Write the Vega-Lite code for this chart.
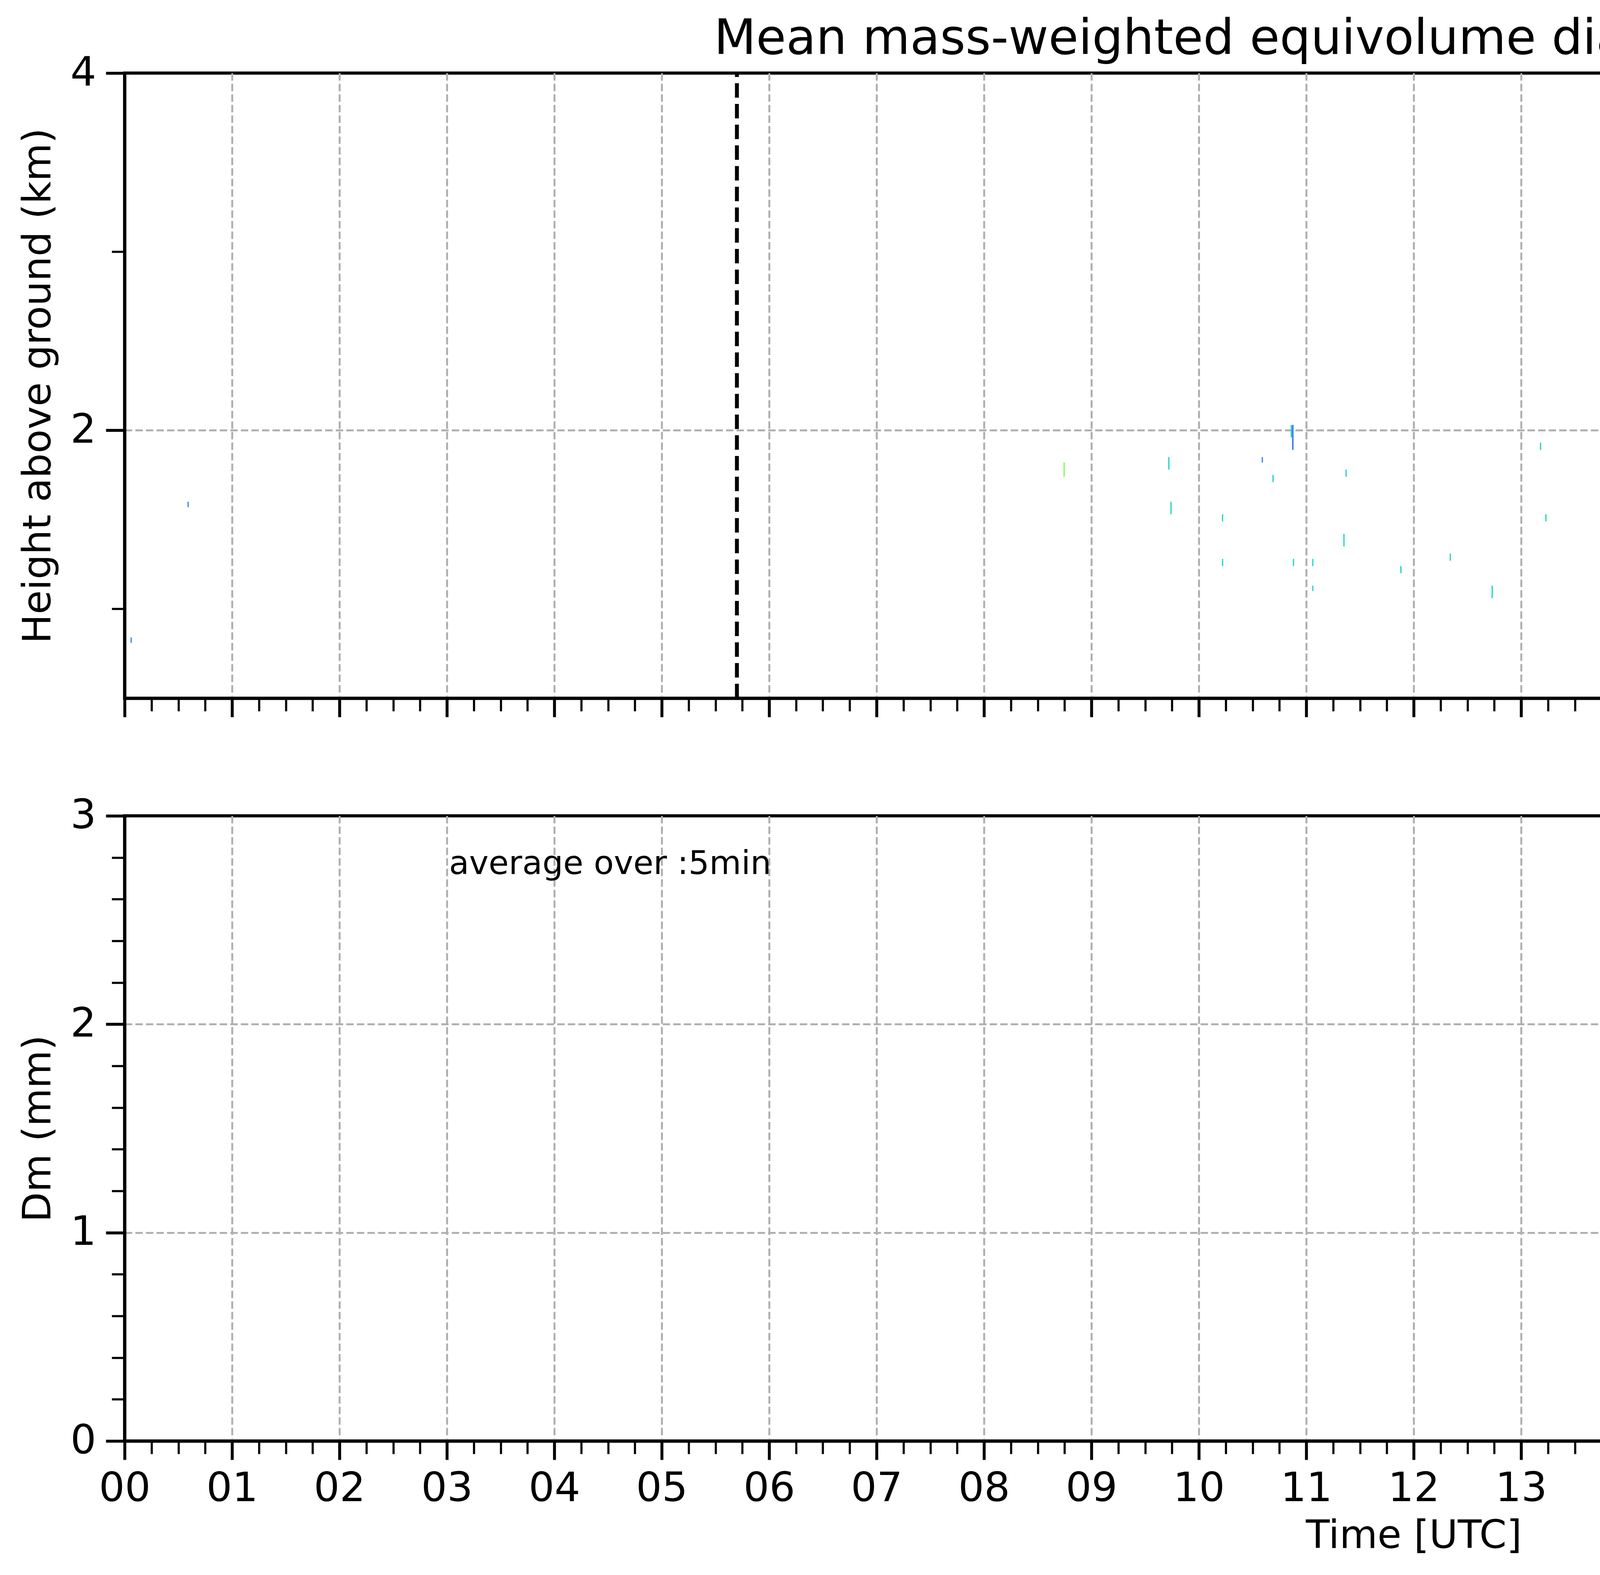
{
  "$schema": "https://vega.github.io/schema/vega-lite/v6.json",
  "background": "white",
  "padding": {"left": 44, "top": 34, "right": 5, "bottom": 5},
  "spacing": 301,
  "bounds": "flush",
  "config": {
    "font": "DejaVu Sans",
    "view": {"stroke": "black", "strokeWidth": 8},
    "axis": {
      "domainColor": "black", "domainWidth": 8, "tickColor": "black",
      "labelColor": "black", "titleColor": "black",
      "gridColor": "#b0b0b0", "gridDash": [19, 8], "gridWidth": 5,
      "titleFontWeight": "normal", "labelFontSize": 104, "titleFontSize": 100,
      "labelPadding": 25, "titlePadding": 30,
      "labelOverlap": false, "labelFlush": false, "labelBound": false
    },
    "title": {"fontWeight": "normal", "color": "black"}
  },
  "datasets": {
    "c": [
      {"t0": 0.055, "t1": 0.067, "h0": 0.81, "h1": 0.84, "dm": 0.35},
      {"t0": 0.585, "t1": 0.597, "h0": 1.57, "h1": 1.60, "dm": 0.35},
      {"t0": 8.74, "t1": 8.752, "h0": 1.74, "h1": 1.82, "dm": 0.95},
      {"t0": 9.715, "t1": 9.727, "h0": 1.78, "h1": 1.85, "dm": 0.6},
      {"t0": 9.735, "t1": 9.747, "h0": 1.53, "h1": 1.60, "dm": 0.62},
      {"t0": 10.215, "t1": 10.227, "h0": 1.49, "h1": 1.53, "dm": 0.62},
      {"t0": 10.215, "t1": 10.227, "h0": 1.24, "h1": 1.28, "dm": 0.62},
      {"t0": 10.585, "t1": 10.597, "h0": 1.82, "h1": 1.85, "dm": 0.35},
      {"t0": 10.685, "t1": 10.697, "h0": 1.71, "h1": 1.75, "dm": 0.6},
      {"t0": 10.855, "t1": 10.868, "h0": 1.96, "h1": 2.03, "dm": 0.55},
      {"t0": 10.868, "t1": 10.882, "h0": 1.89, "h1": 2.03, "dm": 0.3},
      {"t0": 10.875, "t1": 10.887, "h0": 1.24, "h1": 1.28, "dm": 0.62},
      {"t0": 11.055, "t1": 11.067, "h0": 1.24, "h1": 1.28, "dm": 0.62},
      {"t0": 11.055, "t1": 11.067, "h0": 1.10, "h1": 1.13, "dm": 0.62},
      {"t0": 11.365, "t1": 11.377, "h0": 1.74, "h1": 1.78, "dm": 0.6},
      {"t0": 11.345, "t1": 11.357, "h0": 1.35, "h1": 1.42, "dm": 0.6},
      {"t0": 11.875, "t1": 11.887, "h0": 1.20, "h1": 1.24, "dm": 0.6},
      {"t0": 12.335, "t1": 12.347, "h0": 1.27, "h1": 1.31, "dm": 0.62},
      {"t0": 12.725, "t1": 12.737, "h0": 1.06, "h1": 1.13, "dm": 0.6},
      {"t0": 13.175, "t1": 13.187, "h0": 1.89, "h1": 1.93, "dm": 0.6},
      {"t0": 13.225, "t1": 13.237, "h0": 1.49, "h1": 1.53, "dm": 0.6},
      {"t0": 14.215, "t1": 14.227, "h0": 1.46, "h1": 1.49, "dm": 0.6},
      {"t0": 15.085, "t1": 15.097, "h0": 1.46, "h1": 1.49, "dm": 0.6},
      {"t0": 15.21, "t1": 15.24, "h0": 1.35, "h1": 1.64, "dm": 0.46},
      {"t0": 15.215, "t1": 15.228, "h0": 1.28, "h1": 1.31, "dm": 0.62},
      {"t0": 15.36, "t1": 15.372, "h0": 1.31, "h1": 1.50, "dm": 0.85},
      {"t0": 15.372, "t1": 15.39, "h0": 1.40, "h1": 1.57, "dm": 0.55},
      {"t0": 15.386, "t1": 15.393, "h0": 1.60, "h1": 2.07, "dm": 0.62},
      {"t0": 16.358, "t1": 16.393, "h0": 1.03, "h1": 1.676, "dm": 0.45},
      {"t0": 16.379, "t1": 16.393, "h0": 0.5, "h1": 1.03, "dm": 0.5},
      {"t0": 16.372, "t1": 16.38, "h0": 1.1, "h1": 1.65, "dm": 0.8},
      {"t0": 16.536, "t1": 16.565, "h0": 0.86, "h1": 1.75, "dm": 0.44},
      {"t0": 16.565, "t1": 16.599, "h0": 1.17, "h1": 1.853, "dm": 0.5},
      {"t0": 16.687, "t1": 16.715, "h0": 1.24, "h1": 1.853, "dm": 0.44},
      {"t0": 16.722, "t1": 16.75, "h0": 1.10, "h1": 1.637, "dm": 0.68},
      {"t0": 16.838, "t1": 16.866, "h0": 0.5, "h1": 1.637, "dm": 0.85},
      {"t0": 16.866, "t1": 16.9, "h0": 0.5, "h1": 1.709, "dm": 0.62},
      {"t0": 17.042, "t1": 17.097, "h0": 1.25, "h1": 1.747, "dm": 0.5},
      {"t0": 17.185, "t1": 17.2, "h0": 1.35, "h1": 1.747, "dm": 0.52},
      {"t0": 17.232, "t1": 17.246, "h0": 1.385, "h1": 1.49, "dm": 0.38},
      {"t0": 17.334, "t1": 17.36, "h0": 0.5, "h1": 1.637, "dm": 0.64},
      {"t0": 17.36, "t1": 17.394, "h0": 0.5, "h1": 1.60, "dm": 0.5},
      {"t0": 17.538, "t1": 17.596, "h0": 0.5, "h1": 1.747, "dm": 1.36},
      {"t0": 17.681, "t1": 17.744, "h0": 0.5, "h1": 1.747, "dm": 1.4},
      {"t0": 17.834, "t1": 17.848, "h0": 0.5, "h1": 1.709, "dm": 1.52},
      {"t0": 17.848, "t1": 17.897, "h0": 0.5, "h1": 1.747, "dm": 1.05},
      {"t0": 18.038, "t1": 18.066, "h0": 0.5, "h1": 1.89, "dm": 0.64},
      {"t0": 18.066, "t1": 18.096, "h0": 0.5, "h1": 1.926, "dm": 0.68},
      {"t0": 18.184, "t1": 18.244, "h0": 0.5, "h1": 1.853, "dm": 0.7},
      {"t0": 18.333, "t1": 18.395, "h0": 0.5, "h1": 1.853, "dm": 0.74},
      {"t0": 18.536, "t1": 18.594, "h0": 0.5, "h1": 1.926, "dm": 0.58},
      {"t0": 18.685, "t1": 18.745, "h0": 0.5, "h1": 1.747, "dm": 1.58},
      {"t0": 18.833, "t1": 18.87, "h0": 0.5, "h1": 1.853, "dm": 0.6},
      {"t0": 18.87, "t1": 18.893, "h0": 0.5, "h1": 1.82, "dm": 0.75},
      {"t0": 19.035, "t1": 19.095, "h0": 0.5, "h1": 1.819, "dm": 0.84},
      {"t0": 19.183, "t1": 19.243, "h0": 0.5, "h1": 1.819, "dm": 0.82},
      {"t0": 19.331, "t1": 19.392, "h0": 0.5, "h1": 1.80, "dm": 0.9},
      {"t0": 19.535, "t1": 19.593, "h0": 0.5, "h1": 1.89, "dm": 0.55},
      {"t0": 19.687, "t1": 19.745, "h0": 0.5, "h1": 1.89, "dm": 0.6},
      {"t0": 19.831, "t1": 19.896, "h0": 0.9, "h1": 1.99, "dm": 0.47},
      {"t0": 19.85, "t1": 19.86, "h0": 0.84, "h1": 0.9, "dm": 0.4},
      {"t0": 20.035, "t1": 20.095, "h0": 0.5, "h1": 1.89, "dm": 0.46},
      {"t0": 20.183, "t1": 20.244, "h0": 0.5, "h1": 1.926, "dm": 0.42},
      {"t0": 20.205, "t1": 20.213, "h0": 0.6, "h1": 1.6, "dm": 0.3},
      {"t0": 20.332, "t1": 20.394, "h0": 0.5, "h1": 1.963, "dm": 0.52},
      {"t0": 20.37, "t1": 20.378, "h0": 0.6, "h1": 1.7, "dm": 0.32},
      {"t0": 20.536, "t1": 20.594, "h0": 0.5, "h1": 1.82, "dm": 0.85},
      {"t0": 20.68, "t1": 20.742, "h0": 0.5, "h1": 1.82, "dm": 0.96},
      {"t0": 20.835, "t1": 20.895, "h0": 0.5, "h1": 1.89, "dm": 0.55},
      {"t0": 21.032, "t1": 21.045, "h0": 0.5, "h1": 1.82, "dm": 1.15},
      {"t0": 21.045, "t1": 21.095, "h0": 0.5, "h1": 1.853, "dm": 1.02},
      {"t0": 21.186, "t1": 21.246, "h0": 0.5, "h1": 1.89, "dm": 0.5},
      {"t0": 21.334, "t1": 21.394, "h0": 0.5, "h1": 1.80, "dm": 0.86},
      {"t0": 21.536, "t1": 21.594, "h0": 0.5, "h1": 1.78, "dm": 0.82},
      {"t0": 21.687, "t1": 21.725, "h0": 0.5, "h1": 1.70, "dm": 0.42},
      {"t0": 21.725, "t1": 21.745, "h0": 0.5, "h1": 1.926, "dm": 0.5},
      {"t0": 21.71, "t1": 21.718, "h0": 0.5, "h1": 1.3, "dm": 0.3},
      {"t0": 22.085, "t1": 22.097, "h0": 1.85, "h1": 1.93, "dm": 0.55},
      {"t0": 22.205, "t1": 22.215, "h0": 1.78, "h1": 1.93, "dm": 0.62},
      {"t0": 23.044, "t1": 23.097, "h0": 1.05, "h1": 1.89, "dm": 0.66},
      {"t0": 23.06, "t1": 23.075, "h0": 0.81, "h1": 1.05, "dm": 0.6},
      {"t0": 23.18, "t1": 23.25, "h0": 0.5, "h1": 1.28, "dm": 0.5},
      {"t0": 21.84, "t1": 21.855, "h0": 3.22, "h1": 3.44, "dm": 0.45},
      {"t0": 21.84, "t1": 21.85, "h0": 2.79, "h1": 2.86, "dm": 0.72},
      {"t0": 22.055, "t1": 22.065, "h0": 2.58, "h1": 2.72, "dm": 0.4},
      {"t0": 22.2, "t1": 22.21, "h0": 3.30, "h1": 3.44, "dm": 0.55},
      {"t0": 22.2, "t1": 22.208, "h0": 2.58, "h1": 2.65, "dm": 0.1},
      {"t0": 22.705, "t1": 22.715, "h0": 2.52, "h1": 2.62, "dm": 0.5},
      {"t0": 22.84, "t1": 22.86, "h0": 2.52, "h1": 2.65, "dm": 0.7},
      {"t0": 23.2, "t1": 23.225, "h0": 2.56, "h1": 2.90, "dm": 0.52},
      {"t0": 23.335, "t1": 23.345, "h0": 2.72, "h1": 2.83, "dm": 0.55},
      {"t0": 23.55, "t1": 23.565, "h0": 2.52, "h1": 2.72, "dm": 0.7}
    ],
    "r": [
      {"t": 17.5, "med": 1.319, "lo": 1.089, "hi": 1.401, "s": 1},
      {"t": 17.5833, "med": 1.253, "lo": 1.05, "hi": 1.304, "s": 1},
      {"t": 17.6667, "med": 1.316, "lo": 1.151, "hi": 1.435, "s": 1},
      {"t": 18.0, "med": 0.689, "lo": 0.604, "hi": 0.759, "s": 2},
      {"t": 18.0833, "med": 0.629, "lo": 0.611, "hi": 0.697, "s": 2},
      {"t": 18.1667, "med": 0.746, "lo": 0.583, "hi": 0.801, "s": 2},
      {"t": 18.5, "med": 0.759, "lo": 0.265, "hi": 0.853, "s": 3},
      {"t": 18.5833, "med": 0.634, "lo": 0.56, "hi": 0.674, "s": 3},
      {"t": 18.6667, "med": 1.566, "lo": 0.594, "hi": 1.705, "s": 3},
      {"t": 19.0, "med": 0.827, "lo": 0.719, "hi": 0.924, "s": 4},
      {"t": 19.0833, "med": 0.805, "lo": 0.765, "hi": 0.85, "s": 4},
      {"t": 19.1667, "med": 0.819, "lo": 0.765, "hi": 0.853, "s": 4},
      {"t": 19.5, "med": 0.597, "lo": 0.313, "hi": 0.719, "s": 5},
      {"t": 19.5833, "med": 0.583, "lo": 0.296, "hi": 0.748, "s": 5},
      {"t": 19.6667, "med": 0.611, "lo": 0.263, "hi": 0.918, "s": 5},
      {"t": 20.0, "med": 0.46, "lo": 0.117, "hi": 0.6, "s": 6},
      {"t": 20.0833, "med": 0.53, "lo": 0.254, "hi": 0.594, "s": 6},
      {"t": 20.1667, "med": 0.504, "lo": 0.324, "hi": 0.736, "s": 6},
      {"t": 20.5, "med": 0.799, "lo": 0.736, "hi": 0.935, "s": 7},
      {"t": 20.5833, "med": 0.876, "lo": 0.81, "hi": 0.933, "s": 7},
      {"t": 20.6667, "med": 0.933, "lo": 0.824, "hi": 1.111, "s": 7},
      {"t": 21.0, "med": 0.994, "lo": 0.061, "hi": 1.21, "s": 8},
      {"t": 21.0833, "med": 1.083, "lo": 0.941, "hi": 1.174, "s": 8},
      {"t": 21.1667, "med": 0.654, "lo": 0.237, "hi": 1.217, "s": 8},
      {"t": 21.5, "med": 0.79, "lo": 0.515, "hi": 0.992, "s": 9},
      {"t": 21.5833, "med": 0.617, "lo": 0.494, "hi": 0.697, "s": 9},
      {"t": 21.6667, "med": 0.566, "lo": 0.231, "hi": 0.822, "s": 9}
    ],
    "ri": [
      {"t": 16.3333, "lo": 0.275, "hi": 1.172},
      {"t": 16.8333, "lo": 0.155, "hi": 1.094},
      {"t": 17.3333, "lo": 0.157, "hi": 1.361},
      {"t": 17.8333, "lo": 0.793, "hi": 1.541},
      {"t": 18.3333, "lo": 0.316, "hi": 0.835},
      {"t": 18.8333, "lo": 0.515, "hi": 0.844},
      {"t": 19.3333, "lo": 0.799, "hi": 0.901},
      {"t": 20.3333, "lo": 0.095, "hi": 0.646},
      {"t": 20.8333, "lo": 0.435, "hi": 1.807},
      {"t": 21.3333, "lo": 0.676, "hi": 1.062},
      {"t": 23.1667, "lo": 0.182, "hi": 0.864}
    ],
    "p": [
      {"t": 17.4167, "med": 0.994, "lo": 0.856, "hi": 0.994, "s": 1},
      {"t": 17.5, "med": 1.047, "lo": 0.907, "hi": 1.047, "s": 1},
      {"t": 17.5833, "med": 1.2, "lo": 1.037, "hi": 1.299, "s": 1},
      {"t": 17.6667, "med": 1.133, "lo": 1.094, "hi": 1.308, "s": 1},
      {"t": 17.75, "med": 1.165, "lo": 0.958, "hi": 1.189, "s": 1},
      {"t": 17.8333, "med": 1.043, "lo": 0.736, "hi": 1.172, "s": 1},
      {"t": 17.9167, "med": 0.657, "lo": 0.634, "hi": 0.725, "s": 1},
      {"t": 18.0, "med": 0.629, "lo": 0.526, "hi": 0.731, "s": 1},
      {"t": 18.0833, "med": 0.654, "lo": 0.521, "hi": 0.725, "s": 1},
      {"t": 18.1667, "med": 0.623, "lo": 0.606, "hi": 0.719, "s": 1},
      {"t": 18.25, "med": 0.689, "lo": 0.617, "hi": 0.706, "s": 1},
      {"t": 18.3333, "med": 0.619, "lo": 0.583, "hi": 0.697, "s": 1},
      {"t": 18.4167, "med": 0.66, "lo": 0.572, "hi": 0.706, "s": 1},
      {"t": 18.5, "med": 0.597, "lo": 0.583, "hi": 0.654, "s": 1},
      {"t": 18.5833, "med": 0.619, "lo": 0.589, "hi": 0.654, "s": 1},
      {"t": 18.6667, "med": 0.657, "lo": 0.54, "hi": 1.526, "s": 1},
      {"t": 18.75, "med": 0.861, "lo": 0.64, "hi": 1.27, "s": 1},
      {"t": 18.8333, "med": 0.665, "lo": 0.572, "hi": 0.822, "s": 1},
      {"t": 18.9167, "med": 0.882, "lo": 0.81, "hi": 0.901, "s": 1},
      {"t": 19.0, "med": 0.78, "lo": 0.725, "hi": 0.799, "s": 1},
      {"t": 19.0833, "med": 0.736, "lo": 0.708, "hi": 0.759, "s": 1},
      {"t": 19.1667, "med": 0.706, "lo": 0.697, "hi": 0.742, "s": 1},
      {"t": 19.25, "med": 0.719, "lo": 0.685, "hi": 0.742, "s": 1},
      {"t": 19.3333, "med": 0.753, "lo": 0.731, "hi": 0.816, "s": 1},
      {"t": 19.4167, "med": 0.751, "lo": 0.68, "hi": 0.799, "s": 1},
      {"t": 19.5, "med": 0.657, "lo": 0.572, "hi": 0.708, "s": 1},
      {"t": 19.5833, "med": 0.611, "lo": 0.594, "hi": 0.674, "s": 1},
      {"t": 19.6667, "med": 0.801, "lo": 0.765, "hi": 0.947, "s": 1},
      {"t": 19.75, "med": 0.619, "lo": 0.597, "hi": 0.619, "s": 1},
      {"t": 20.5833, "med": 0.74, "lo": 0.672, "hi": 0.81, "s": 2},
      {"t": 20.6667, "med": 0.742, "lo": 0.617, "hi": 0.856, "s": 2},
      {"t": 20.75, "med": 0.78, "lo": 0.608, "hi": 0.881, "s": 2},
      {"t": 20.8333, "med": 0.731, "lo": 0.538, "hi": 0.975, "s": 2}
    ]
  },
  "resolve": {
    "scale": {"x": "independent", "y": "independent", "color": "independent", "fill": "independent"},
    "legend": {"color": "independent", "fill": "independent"}
  },
  "vconcat": [
    {
      "width": 6600,
      "height": 1600,
      "title": {
        "text": "Mean mass-weighted equivolume diameter on 20251020",
        "fontSize": 125, "fontWeight": "normal", "anchor": "middle", "frame": "group", "offset": -29
      },
      "resolve": {"axis": {"x": "independent", "y": "independent"}},
      "layer": [
        {
          "data": {"name": "c"},
          "mark": {"type": "rect"},
          "encoding": {
            "x": {
              "field": "t0", "type": "quantitative",
              "scale": {"domain": [0, 24], "nice": false, "zero": false},
              "axis": {"orient": "bottom", "values": [0,1,2,3,4,5,6,7,8,9,10,11,12,13,14,15,16,17,18,19,20,21,22,23], "labels": false, "tickSize": 48, "tickWidth": 7.5, "domain": true, "grid": false, "title": null, "zindex": 1}
            },
            "x2": {"field": "t1"},
            "y": {
              "field": "h0", "type": "quantitative",
              "scale": {"domain": [0.5, 4], "nice": false, "zero": false},
              "axis": {"orient": "left", "values": [2, 4], "tickSize": 48, "tickWidth": 7.5, "domain": true, "grid": false, "title": "Height above ground (km)", "zindex": 1}
            },
            "y2": {"field": "h1"},
            "fill": {
              "field": "dm", "type": "quantitative",
              "scale": {"scheme": "turbo", "domain": [0, 2]},
              "legend": {
                "type": "gradient", "orient": "right", "offset": 72, "padding": 0,
                "gradientLength": 1600, "gradientThickness": 116,
                "gradientStrokeColor": "black", "gradientStrokeWidth": 4,
                "values": [0, 0.4, 0.8, 1.2, 1.6, 2.0], "format": ".1f",
                "labelFontSize": 80, "labelOffset": 49, "labelOverlap": false, "labelColor": "black",
                "title": "Dm (mm)", "titleOrient": "right", "titleFontSize": 80, "titleFontWeight": "normal",
                "titlePadding": 111, "titleAnchor": "middle", "titleColor": "black", "titleLimit": 3000,
                "encode": {
                  "labels": {"baseline": {"value": "middle"}},
                  "title": {"angle": {"value": 270}}
                }
              }
            }
          }
        },
        {
          "data": {"values": [{}]},
          "mark": {"type": "rect", "color": "#d6d6d6"},
          "encoding": {
            "x": {
              "datum": 23.88, "type": "quantitative",
              "scale": {"domain": [0, 24], "nice": false, "zero": false},
              "axis": {"orient": "bottom", "values": [0.25,0.5,0.75,1.25,1.5,1.75,2.25,2.5,2.75,3.25,3.5,3.75,4.25,4.5,4.75,5.25,5.5,5.75,6.25,6.5,6.75,7.25,7.5,7.75,8.25,8.5,8.75,9.25,9.5,9.75,10.25,10.5,10.75,11.25,11.5,11.75,12.25,12.5,12.75,13.25,13.5,13.75,14.25,14.5,14.75,15.25,15.5,15.75,16.25,16.5,16.75,17.25,17.5,17.75,18.25,18.5,18.75,19.25,19.5,19.75,20.25,20.5,20.75,21.25,21.5,21.75,22.25,22.5,22.75,23.25,23.5,23.75], "labels": false, "tickSize": 33, "tickWidth": 5.5, "domain": false, "grid": false, "title": null, "zindex": 1}
            },
            "x2": {"datum": 23.99},
            "y": {
              "datum": 0.5, "type": "quantitative",
              "scale": {"domain": [0.5, 4], "nice": false, "zero": false},
              "axis": {"orient": "left", "values": [1, 3], "labels": false, "tickSize": 33, "tickWidth": 5.5, "domain": false, "grid": false, "title": null, "zindex": 1}
            },
            "y2": {"datum": 4}
          }
        },
        {
          "data": {"values": [{"t": 5.7}, {"t": 16.25}]},
          "mark": {"type": "rule", "color": "black", "strokeWidth": 10, "strokeDash": [37, 16]},
          "encoding": {
            "x": {
              "field": "t", "type": "quantitative",
              "scale": {"domain": [0, 24], "nice": false, "zero": false},
              "axis": {"orient": "bottom", "values": [1,2,3,4,5,6,7,8,9,10,11,12,13,14,15,16,17,18,19,20,21,22,23], "labels": false, "ticks": false, "domain": false, "grid": true, "title": null, "zindex": 0}
            },
            "y": {
              "datum": 0.5, "type": "quantitative",
              "scale": {"domain": [0.5, 4], "nice": false, "zero": false},
              "axis": {"orient": "left", "values": [2], "labels": false, "ticks": false, "domain": false, "grid": true, "title": null, "zindex": 0}
            },
            "y2": {"datum": 4}
          }
        }
      ]
    },
    {
      "width": 6600,
      "height": 1600,
      "resolve": {"axis": {"x": "independent", "y": "independent"}},
      "layer": [
        {
          "data": {"name": "r"},
          "mark": {"type": "area", "fillOpacity": 0.5, "stroke": "gray", "strokeOpacity": 0.5, "strokeWidth": 5},
          "encoding": {
            "x": {
              "field": "t", "type": "quantitative",
              "scale": {"domain": [0, 24], "nice": false, "zero": false},
              "axis": {"orient": "bottom", "values": [0,1,2,3,4,5,6,7,8,9,10,11,12,13,14,15,16,17,18,19,20,21,22,23], "format": "02d", "labelPadding": 23, "tickSize": 48, "tickWidth": 7.5, "domain": true, "grid": false, "title": "Time [UTC]", "titlePadding": 20, "zindex": 1}
            },
            "y": {
              "field": "hi", "type": "quantitative",
              "scale": {"domain": [0, 3], "nice": false, "zero": false},
              "axis": {"orient": "left", "values": [0, 1, 2, 3], "tickSize": 48, "tickWidth": 7.5, "domain": true, "grid": false, "title": "Dm (mm)", "zindex": 1}
            },
            "y2": {"field": "lo"},
            "detail": {"field": "s", "type": "nominal"},
            "color": {
              "datum": "Min-Max Range radar Dm", "type": "nominal",
              "scale": {"domain": ["Min-Max Range radar Dm", "radar(xmacs-wmacs)_Dm_median", "Min-Max Range parsivel Dm", "parsivel_Dm_median"], "range": ["gray", "black", "#bf00bf", "#bf00bf"]},
              "legend": {
                "orient": "top-right", "offset": 36, "title": null, "padding": 22,
                "fillColor": "white", "strokeColor": "#d3d3d3", "cornerRadius": 12,
                "labelFontSize": 70, "labelColor": "black", "labelLimit": 3000,
                "symbolSize": 4900, "symbolOffset": 37.5, "labelOffset": 128, "rowPadding": 30,
                "encode": {
                  "symbols": {
                    "shape": {"signal": "indexOf(datum.value, 'Min-Max') == 0 ? 'M-2.07,-0.63H2.07V0.63H-2.07Z' : 'M-2.07,0H2.07'"},
                    "stroke": {"signal": "indexOf(datum.value, 'radar') >= 0 ? (indexOf(datum.value, 'Min-Max') == 0 ? 'gray' : 'black') : '#bf00bf'"},
                    "strokeWidth": {"signal": "indexOf(datum.value, 'Min-Max') == 0 ? 4 : 9"},
                    "fillOpacity": {"signal": "indexOf(datum.value, 'Min-Max') == 0 ? (indexOf(datum.value, 'radar') >= 0 ? 0.5 : 0.3) : 0"},
                    "strokeOpacity": {"signal": "indexOf(datum.value, 'Min-Max') == 0 ? (indexOf(datum.value, 'radar') >= 0 ? 0.5 : 0.3) : 1"}
                  }
                }
              }
            }
          }
        },
        {
          "data": {"name": "ri"},
          "mark": {"type": "rule", "color": "gray", "opacity": 0.5, "strokeWidth": 5.5},
          "encoding": {
            "x": {
              "field": "t", "type": "quantitative",
              "scale": {"domain": [0, 24], "nice": false, "zero": false},
              "axis": {"orient": "bottom", "values": [0.25,0.5,0.75,1.25,1.5,1.75,2.25,2.5,2.75,3.25,3.5,3.75,4.25,4.5,4.75,5.25,5.5,5.75,6.25,6.5,6.75,7.25,7.5,7.75,8.25,8.5,8.75,9.25,9.5,9.75,10.25,10.5,10.75,11.25,11.5,11.75,12.25,12.5,12.75,13.25,13.5,13.75,14.25,14.5,14.75,15.25,15.5,15.75,16.25,16.5,16.75,17.25,17.5,17.75,18.25,18.5,18.75,19.25,19.5,19.75,20.25,20.5,20.75,21.25,21.5,21.75,22.25,22.5,22.75,23.25,23.5,23.75], "labels": false, "tickSize": 33, "tickWidth": 5.5, "domain": false, "grid": false, "title": null, "zindex": 1}
            },
            "y": {
              "field": "lo", "type": "quantitative",
              "scale": {"domain": [0, 3], "nice": false, "zero": false},
              "axis": {"orient": "left", "values": [0.2,0.4,0.6,0.8,1.2,1.4,1.6,1.8,2.2,2.4,2.6,2.8], "labels": false, "tickSize": 33, "tickWidth": 5.5, "domain": false, "grid": false, "title": null, "zindex": 1}
            },
            "y2": {"field": "hi"}
          }
        },
        {
          "data": {"name": "r"},
          "mark": {"type": "line", "color": "black", "strokeWidth": 9, "strokeCap": "square", "strokeJoin": "round"},
          "encoding": {
            "x": {
              "field": "t", "type": "quantitative",
              "scale": {"domain": [0, 24], "nice": false, "zero": false},
              "axis": {"orient": "bottom", "values": [1,2,3,4,5,6,7,8,9,10,11,12,13,14,15,16,17,18,19,20,21,22,23], "labels": false, "ticks": false, "domain": false, "grid": true, "title": null, "zindex": 0}
            },
            "y": {
              "field": "med", "type": "quantitative",
              "scale": {"domain": [0, 3], "nice": false, "zero": false},
              "axis": {"orient": "left", "values": [1, 2], "labels": false, "ticks": false, "domain": false, "grid": true, "title": null, "zindex": 0}
            },
            "detail": {"field": "s", "type": "nominal"}
          }
        },
        {
          "data": {"name": "p"},
          "mark": {"type": "area", "fill": "#bf00bf", "fillOpacity": 0.3, "stroke": "#bf00bf", "strokeOpacity": 0.3, "strokeWidth": 5},
          "encoding": {
            "x": {"field": "t", "type": "quantitative", "scale": {"domain": [0, 24], "nice": false, "zero": false}, "axis": null},
            "y": {"field": "hi", "type": "quantitative", "scale": {"domain": [0, 3], "nice": false, "zero": false}, "axis": null},
            "y2": {"field": "lo"},
            "detail": {"field": "s", "type": "nominal"}
          }
        },
        {
          "data": {"name": "p"},
          "mark": {"type": "line", "color": "#bf00bf", "strokeWidth": 8, "strokeCap": "square", "strokeJoin": "round"},
          "encoding": {
            "x": {"field": "t", "type": "quantitative", "scale": {"domain": [0, 24], "nice": false, "zero": false}, "axis": null},
            "y": {"field": "med", "type": "quantitative", "scale": {"domain": [0, 3], "nice": false, "zero": false}, "axis": null},
            "detail": {"field": "s", "type": "nominal"}
          }
        },
        {
          "data": {"values": [{}]},
          "mark": {"type": "text", "fontSize": 84, "align": "left", "baseline": "alphabetic", "color": "black"},
          "encoding": {
            "x": {"datum": 3.02, "type": "quantitative", "scale": {"domain": [0, 24], "nice": false, "zero": false}, "axis": null},
            "y": {"datum": 2.72, "type": "quantitative", "scale": {"domain": [0, 3], "nice": false, "zero": false}, "axis": null},
            "text": {"value": "average over :5min"}
          }
        }
      ]
    }
  ]
}
